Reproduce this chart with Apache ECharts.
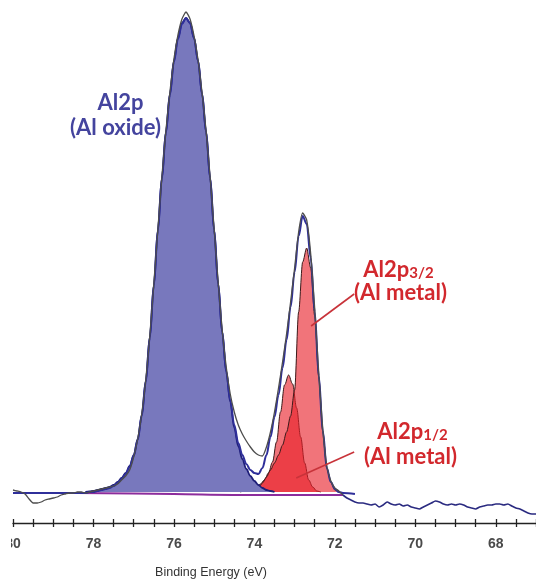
<!DOCTYPE html>
<html><head><meta charset="utf-8">
<script src="https://cdn.jsdelivr.net/npm/echarts@6/dist/echarts.min.js"></script>
<style>html,body{margin:0;padding:0;background:#fff}#c{width:536px;height:583px}</style>
</head><body><div id="c"></div>
<script>
// ---------- data (binding energy in eV, intensity in arbitrary units) ----------
const tickLabels = [80, 78, 76, 74, 72, 70, 68];
const tickMarks = [80,79.5,79,78.5,78,77.5,77,76.5,76,75.5,75,74.5,74,73.5,73,72.5,72,71.5,71,70.5,70,69.5,69,68.5,68,67.5,67];

const oxideBE = [78.2,78.1,78.0,77.9,77.8,77.7,77.6,77.5,77.4,77.3,77.2,77.1,77.0,76.9,76.8,76.7,76.6,76.5,76.4,76.3,76.2,76.1,76.0,75.9,75.8,75.7,75.6,75.5,75.4,75.3,75.2,75.1,75.0,74.9,74.8,74.7,74.6,74.5,74.4,74.3,74.2,74.1,74.0,73.9,73.8,73.7,73.6,73.5];
const oxideI  = [0,0.5,1,2,3,4,5,7,10,14,19,26,37,53,77,111,155,207,262,314,360,398,431,454,469,474,469,454,431,398,360,314,262,208,160,120,90,64,46,33,23,16,11,7,4,2,1,0];

const metal32BE = [74.0,73.9,73.8,73.7,73.6,73.5,73.4,73.3,73.2,73.1,73.0,72.9,72.8,72.7,72.6,72.5,72.4,72.3,72.2,72.1,72.0,71.9];
const metal32I  = [0,4,9,15,22,29,37,47,60,76,102,180,230,244,224,176,115,61,24,10,2,0];

const metal12BE = [74.35,74.25,74.15,74.05,73.95,73.85,73.75,73.65,73.55,73.45,73.35,73.25,73.15,73.05,72.95,72.85,72.75,72.65,72.55,72.45,72.35];
const metal12I  = [0,1,2,3,5,8,12,19,30,50,80,107,117,108,84,55,29,12,5,1,0];

const envelopeBE = [80.0,79.5,79.0,78.5,78.3,78.2,78.1,78.0,77.9,77.8,77.7,77.6,77.5,77.4,77.3,77.2,77.1,77.0,76.9,76.8,76.7,76.6,76.5,76.4,76.3,76.2,76.1,76.0,75.9,75.8,75.7,75.6,75.5,75.4,75.3,75.2,75.1,75.0,74.9,74.8,74.7,74.6,74.5,74.4,74.3,74.2,74.1,74.0,73.9,73.8,73.7,73.6,73.5,73.4,73.3,73.2,73.1,73.0,72.9,72.8,72.7,72.6,72.5,72.4,72.3,72.2,72.1,72.0,71.9,71.8,71.5];
const envelopeI  = [-1,-1,-1,-1,-1,-1,0,0,1,2,3,4,6,9,13,18,25,36,52,76,110,154,206,261,313,359,397,430,453,468,474,469,454,431,398,360,314,262,208,160,121,92,67,49,37,28,22,19,18,24,37,55,75,97,124,152,185,220,256,276,268,234,180,116,61,24,10,3,0,-1,-2];

const backgroundBE = [78.4,76.0,74.0,73.0,71.8];
const backgroundI  = [-1,-2,-3,-3,-3];

const rawBE = [80.0,79.9,79.8,79.7,79.6,79.5,79.4,79.3,79.2,79.1,79.0,78.9,78.8,78.7,78.6,78.5,78.4,78.3,78.2,78.1,78.0,77.9,77.8,77.7,77.6,77.5,77.4,77.3,77.2,77.1,77.0,76.9,76.8,76.7,76.6,76.5,76.4,76.3,76.2,76.1,76.0,75.9,75.8,75.7,75.6,75.5,75.4,75.3,75.2,75.1,75.0,74.9,74.8,74.7,74.6,74.5,74.4,74.3,74.2,74.1,74.0,73.9,73.8,73.7,73.6,73.5,73.4,73.3,73.2,73.1,73.0,72.9,72.8,72.7,72.6,72.5,72.4,72.3,72.2,72.1,72.0,71.9,71.8];
const rawI  = [2,1,0,-2,-7,-11,-11,-10,-8,-7,-6,-5,-3,-2,-1,-1,0,0,-1,0,1,2,3,4,5,6,8,12,16,22,35,53,78,112,156,208,262,315,361,400,433,457,473,480,473,456,432,399,361,315,263,210,162,125,98,80,67,58,51,45,40,37,36,45,60,80,104,130,158,190,224,260,279,272,238,183,119,63,26,11,4,1,-3];

const tailBE = [71.8,71.7,71.6,71.5,71.4,71.3,71.2,71.1,71.0,70.9,70.8,70.7,70.6,70.5,70.4,70.3,70.2,70.1,70.0,69.9,69.8,69.7,69.6,69.5,69.4,69.3,69.2,69.1,69.0,68.9,68.8,68.7,68.6,68.5,68.4,68.3,68.2,68.1,68.0,67.9,67.8,67.7,67.6,67.5,67.4,67.3,67.2,67.1,67.0];
const tailI  = [-3,-6,-8,-10,-11,-11,-12,-13,-12,-15,-13,-10,-12,-13,-12,-14,-13,-15,-16,-17,-15,-13,-11,-9,-10,-12,-13,-12,-13,-12,-13,-15,-16,-17,-15,-14,-13,-13,-12,-12,-13,-12,-14,-16,-17,-19,-21,-22,-22];

const zip = (xs, ys) => xs.map((x, i) => [x, ys[i]]);

const chart = echarts.init(document.getElementById('c'), null, {renderer: 'canvas'});

const axisCommon = {
  type: 'value', min: 67, max: 80, inverse: true,
  position: 'bottom',
  splitLine: {show: false}
};

chart.setOption({
  animation: false,
  backgroundColor: '#ffffff',
  grid: {left: 13, right: 0, top: 0, bottom: 60, containLabel: false},
  xAxis: [
    Object.assign({}, axisCommon, {
      axisLine: {show: true, onZero: false, lineStyle: {color: '#222', width: 1.3}},
      axisTick: {show: true, inside: false, length: 4, customValues: tickMarks, lineStyle: {color: '#222', width: 1.3}},
      axisLabel: {show: true, margin: 14, color: '#4a4a4a', fontSize: 14, fontWeight: 'bold',
                  fontFamily: 'Liberation Sans, Arial, sans-serif', customValues: tickLabels}
    }),
    Object.assign({}, axisCommon, {
      axisLine: {show: false, onZero: false},
      axisTick: {show: true, inside: true, length: 4, customValues: tickMarks, lineStyle: {color: '#222', width: 1.3}},
      axisLabel: {show: false}
    })
  ],
  yAxis: {type: 'value', min: -31, max: 492, show: false},
  series: [
    {name: 'Al2p1/2 metal', type: 'line', data: zip(metal12BE, metal12I), smooth: 0.35, smoothMonotone: 'x',
     symbol: 'none', z: 2, lineStyle: {color: '#3b1a1a', width: 1},
     areaStyle: {color: 'rgba(232,30,40,0.62)', opacity: 1}},
    {name: 'Al2p3/2 metal', type: 'line', data: zip(metal32BE, metal32I), smooth: 0.3, smoothMonotone: 'x',
     symbol: 'none', z: 3, lineStyle: {color: '#3b1a1a', width: 1},
     areaStyle: {color: 'rgba(232,30,40,0.62)', opacity: 1}},
    {name: 'Al2p oxide', type: 'line', data: zip(oxideBE, oxideI), smooth: 0.35, smoothMonotone: 'x',
     symbol: 'none', z: 4, lineStyle: {color: '#1e1e78', width: 1.8},
     areaStyle: {color: '#7878bd', opacity: 1}},
    {name: 'Background', type: 'line', data: zip(backgroundBE, backgroundI), smooth: 0.3,
     symbol: 'none', z: 5, lineStyle: {color: '#8c2c9c', width: 2}},
    {name: 'Envelope', type: 'line', data: zip(envelopeBE, envelopeI), smooth: 0.35, smoothMonotone: 'x',
     symbol: 'none', z: 6, lineStyle: {color: '#2f2f9a', width: 2}},
    {name: 'Raw', type: 'line', data: zip(rawBE, rawI), smooth: 0.2,
     symbol: 'none', z: 7, lineStyle: {color: '#4d4d4d', width: 1.3}},
    {name: 'Raw tail', type: 'line', data: zip(tailBE, tailI), smooth: 0.2,
     symbol: 'none', z: 7, lineStyle: {color: '#2a2a80', width: 1.6}}
  ]
});

// ---------- annotations, positioned from data coordinates ----------
const P = (be, i) => chart.convertToPixel({xAxisIndex: 0, yAxisIndex: 0}, [be, i]);
const blue = '#44449e', red = '#d2282d';
const font = 'Lato, "Open Sans", sans-serif';
function txt(be, i, text, color) {
  const p = P(be, i);
  return {type: 'text', x: p[0], y: p[1], z: 100,
          style: {text: text, fill: color, font: 'bold 22px ' + font, align: 'center', verticalAlign: 'middle'}};
}
function subTxt(be, i, main, sub, color) {
  const p = P(be, i);
  return {type: 'text', x: p[0], y: p[1], z: 100,
          style: {text: '{m|' + main + '}{s|' + sub + '}', align: 'center', verticalAlign: 'middle',
                  rich: {
                    m: {fill: color, fontSize: 22, fontWeight: 'bold', fontFamily: font, lineHeight: 25, verticalAlign: 'bottom'},
                    s: {fill: color, fontSize: 15, fontWeight: 'bold', fontFamily: font, lineHeight: 8, verticalAlign: 'bottom'}
                  }}};
}
function seg(be1, i1, be2, i2) {
  const a = P(be1, i1), b = P(be2, i2);
  return {type: 'line', z: 100, shape: {x1: a[0], y1: a[1], x2: b[0], y2: b[1]},
          style: {stroke: '#c8333a', lineWidth: 1.6}};
}
const axisBottom = P(80, -31);
chart.setOption({
  graphic: [
    txt(77.33, 389, 'Al2p', blue),
    txt(77.45, 364, '(Al oxide)', blue),
    subTxt(70.42, 224, 'Al2p', '3/2', red),
    txt(70.37, 199, '(Al metal)', red),
    subTxt(70.07, 62, 'Al2p', '1/2', red),
    txt(70.12, 35, '(Al metal)', red),
    seg(71.52, 198, 72.59, 166),
    seg(71.52, 40, 72.96, 14),
    {type: 'rect', z: 200, shape: {x: 0, y: axisBottom[1] + 8, width: 11, height: 30}, style: {fill: '#fff'}},
    {type: 'text', z: 100, x: 211, y: 573,
     style: {text: 'Binding Energy (eV)', fill: '#333', font: '12.5px "Liberation Sans", Arial, sans-serif',
             align: 'center', verticalAlign: 'middle'}}
  ]
});
</script>
</body></html>
